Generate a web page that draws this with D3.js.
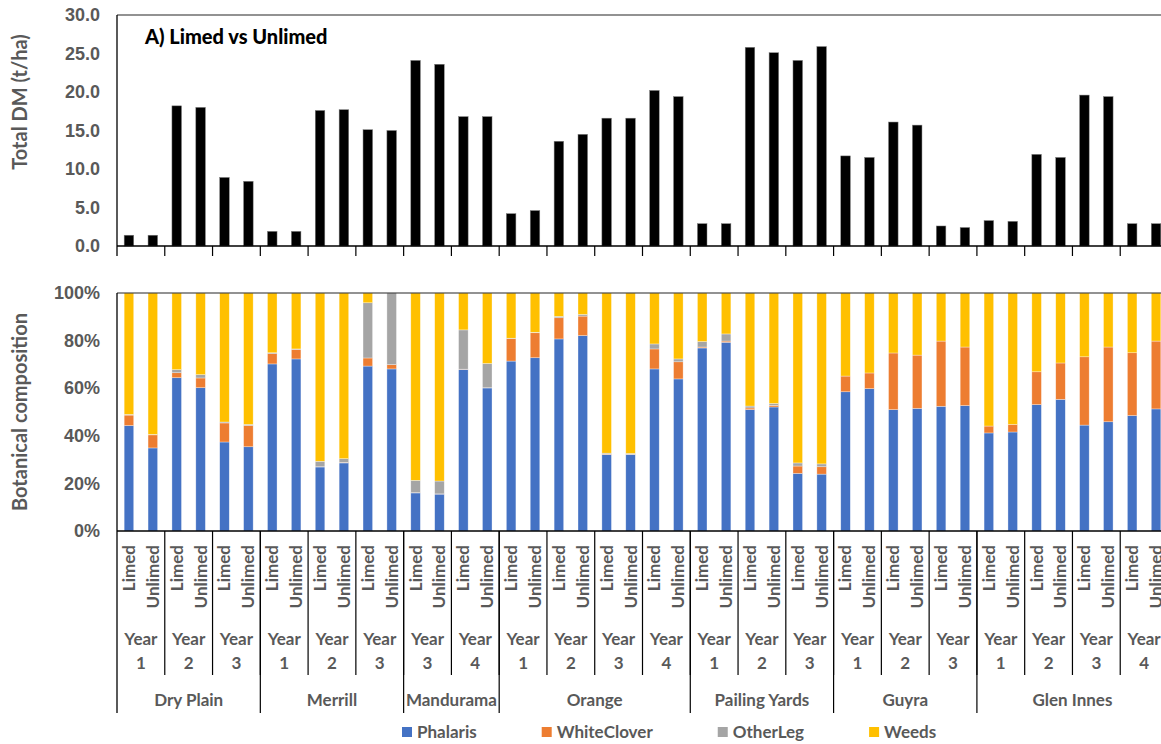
<!DOCTYPE html>
<html>
<head>
<meta charset="utf-8">
<script src="https://cdn.jsdelivr.net/npm/d3@7"></script>
<style>
  html, body { margin: 0; padding: 0; background: #fff; }
  svg { display: block; font-family: Lato, "Open Sans", sans-serif; font-weight: bold; }
</style>
</head>
<body>
<svg id="chart" width="1161" height="744"></svg>
<script>
// Sites, the trial years recorded at each site, and the two treatments
const sites = ["Dry Plain", "Merrill", "Mandurama", "Orange", "Pailing Yards", "Guyra", "Glen Innes"];
const siteYears = [[1, 2, 3], [1, 2, 3], [3, 4], [1, 2, 3, 4], [1, 2, 3], [1, 2, 3], [1, 2, 3, 4]];
const treatments = ["Limed", "Unlimed"];

// Total dry matter (t/ha), one value per bar in site / year / treatment order
const totalDM = [
  1.4, 1.4, 18.2, 18.0, 8.9, 8.4,
  1.9, 1.9, 17.6, 17.7, 15.1, 15.0,
  24.1, 23.6, 16.8, 16.8,
  4.2, 4.6, 13.6, 14.5, 16.6, 16.6, 20.2, 19.4,
  2.9, 2.9, 25.8, 25.1, 24.1, 25.9,
  11.7, 11.5, 16.1, 15.7, 2.6, 2.4,
  3.3, 3.2, 11.9, 11.5, 19.6, 19.4, 2.9, 2.9
];

// Botanical composition (% of total), one value per bar
const phalaris = [
  44.3, 34.9, 64.4, 60.2, 37.4, 35.4,
  70.2, 72.3, 26.9, 28.6, 69.3, 68.1,
  16.0, 15.5, 67.9, 60.1,
  71.4, 72.8, 80.7, 82.1, 32.1, 32.1, 68.1, 63.9,
  76.9, 79.3, 51.0, 52.1, 24.2, 23.9,
  58.5, 59.8, 51.0, 51.5, 52.4, 52.7,
  41.2, 41.6, 53.1, 55.3, 44.5, 45.9, 48.5, 51.3
];
const whiteClover = [
  4.4, 5.5, 2.1, 4.1, 8.0, 8.9,
  4.3, 4.0, 0.1, 0.2, 3.4, 1.8,
  0.1, 0.1, 0.1, 0.1,
  9.4, 10.5, 8.9, 8.2, 0.2, 0.1, 8.4, 7.2,
  0.4, 0.5, 0.7, 0.7, 3.1, 3.1,
  6.6, 6.6, 23.8, 22.4, 27.4, 24.6,
  2.9, 3.2, 13.8, 15.3, 28.7, 31.4, 26.4, 28.5
];
const otherLeg = [
  0.3, 0.2, 1.3, 1.4, 0.4, 0.5,
  0.4, 0.2, 2.3, 1.6, 23.2, 30.1,
  5.2, 5.4, 16.5, 10.2,
  0.2, 0.2, 0.6, 0.7, 0.4, 0.4, 2.1, 1.2,
  2.3, 3.0, 0.8, 0.8, 1.3, 1.2,
  0.0, 0.0, 0.0, 0.0, 0.0, 0.0,
  0.0, 0.0, 0.0, 0.0, 0.0, 0.0, 0.0, 0.0
];
const weeds = [
  51.0, 59.4, 32.2, 34.3, 54.2, 55.2,
  25.1, 23.5, 70.7, 69.6, 4.1, 0.0,
  78.7, 79.0, 15.5, 29.6,
  19.0, 16.5, 9.8, 9.0, 67.3, 67.4, 21.4, 27.7,
  20.4, 17.2, 47.5, 46.4, 71.4, 71.8,
  34.9, 33.6, 25.2, 26.1, 20.2, 22.7,
  55.9, 55.2, 33.1, 29.4, 26.8, 22.7, 25.1, 20.2
];

const seriesNames = ["Phalaris", "WhiteClover", "OtherLeg", "Weeds"];
const seriesColors = ["#4472C4", "#ED7D31", "#A5A5A5", "#FFC000"];
const dmTicks = [0, 5, 10, 15, 20, 25, 30];
const pctTicks = [0, 20, 40, 60, 80, 100];

// ---- build the bar list (site, year, treatment) ----
const bars = [];
const yearGroups = [];
const siteSpans = [];
sites.forEach((s, si) => {
  const first = bars.length;
  siteYears[si].forEach(y => {
    const gFirst = bars.length;
    treatments.forEach(t => {
      const i = bars.length;
      bars.push({ id: i, site: s, year: y, trt: t,
        dm: totalDM[i],
        comp: [phalaris[i], whiteClover[i], otherLeg[i], weeds[i]] });
    });
    yearGroups.push({ year: y, first: gFirst, last: bars.length - 1 });
  });
  siteSpans.push({ site: s, first, last: bars.length - 1 });
});

const svg = d3.select("#chart");
const textCol = "#595959";

const left = 117, right = 1168;
const x = d3.scaleBand().domain(bars.map(d => d.id)).range([left, right])
  .paddingInner(0.6).paddingOuter(0.3);
const step = x.step();
const edge = i => left + i * step;

// ---- top panel: total DM ----
const top1 = 15, bot1 = 246;
const y1 = d3.scaleLinear().domain([0, 30]).range([bot1, top1]);

svg.append("g").selectAll("rect").data(bars).join("rect")
  .attr("x", d => x(d.id)).attr("width", x.bandwidth())
  .attr("y", d => y1(d.dm)).attr("height", d => y1(0) - y1(d.dm))
  .attr("fill", "#000").attr("stroke", "#7f7f7f").attr("stroke-width", 0.5);

const ay1 = svg.append("g").attr("transform", `translate(${left},0)`)
  .call(d3.axisLeft(y1).tickValues(dmTicks).tickFormat(d3.format(".1f")).tickSize(0).tickPadding(17));
ay1.select(".domain").remove();
ay1.selectAll("text").attr("fill", textCol).style("font-size", "18px");

// frame lines, x axis and group ticks
svg.append("line").attr("x1", left).attr("x2", 1161).attr("y1", top1).attr("y2", top1)
  .attr("stroke", "#262626").attr("stroke-width", 1.2);
svg.append("line").attr("x1", left).attr("x2", left).attr("y1", top1).attr("y2", bot1 + 10)
  .attr("stroke", "#000").attr("stroke-width", 1.3);
svg.append("line").attr("x1", left).attr("x2", 1161).attr("y1", bot1).attr("y2", bot1)
  .attr("stroke", "#000").attr("stroke-width", 1.3);
svg.append("g").selectAll("line").data(yearGroups).join("line")
  .attr("x1", d => edge(d.last + 1)).attr("x2", d => edge(d.last + 1))
  .attr("y1", bot1).attr("y2", bot1 + 10)
  .attr("stroke", "#000").attr("stroke-width", 1.2);

svg.append("text").attr("x", 145).attr("y", 44)
  .attr("fill", "#000").style("font-size", "20px").style("font-weight", 900)
  .text("A) Limed vs Unlimed");

svg.append("text").attr("transform", "translate(27,102) rotate(-90)")
  .attr("text-anchor", "middle").attr("fill", textCol).style("font-size", "20px")
  .text("Total DM (t/ha)");

// ---- bottom panel: botanical composition ----
const top2 = 293, bot2 = 531;
const y2 = d3.scaleLinear().domain([0, 100]).range([bot2, top2]);

const stack = d3.stack().keys([0, 1, 2, 3]).value((d, k) => d.comp[k]);
const layers = stack(bars);

svg.append("g").selectAll("g").data(layers).join("g")
  .attr("fill", (d, k) => seriesColors[k])
  .selectAll("rect").data(d => d).join("rect")
  .attr("x", d => x(d.data.id)).attr("width", x.bandwidth())
  .attr("y", d => y2(d[1])).attr("height", d => y2(d[0]) - y2(d[1]))
  .attr("stroke", "#fff").attr("stroke-opacity", 0.55).attr("stroke-width", 0.6);

const ay2 = svg.append("g").attr("transform", `translate(${left},0)`)
  .call(d3.axisLeft(y2).tickValues(pctTicks).tickFormat(d => d + "%").tickSize(0).tickPadding(17));
ay2.select(".domain").remove();
ay2.selectAll("text").attr("fill", textCol).style("font-size", "18px");

svg.append("line").attr("x1", left).attr("x2", 1161).attr("y1", top2).attr("y2", top2)
  .attr("stroke", "#262626").attr("stroke-width", 1.2);
svg.append("line").attr("x1", left).attr("x2", 1161).attr("y1", bot2).attr("y2", bot2)
  .attr("stroke", "#000").attr("stroke-width", 1.3);
svg.append("line").attr("x1", left).attr("x2", left).attr("y1", top2).attr("y2", 713)
  .attr("stroke", "#000").attr("stroke-width", 1.3);

svg.append("text").attr("transform", `translate(27,${(top2 + bot2) / 2}) rotate(-90)`)
  .attr("text-anchor", "middle").attr("fill", textCol).style("font-size", "20px")
  .text("Botanical composition");

// multi-level category axis: treatment / year / site
svg.append("g").selectAll("text").data(bars).join("text")
  .attr("transform", d => `translate(${x(d.id) + x.bandwidth() / 2},545) rotate(-90)`)
  .attr("text-anchor", "end").attr("dy", "0.35em")
  .attr("fill", textCol).style("font-size", "17px").text(d => d.trt);

svg.append("g").selectAll("line").data(yearGroups).join("line")
  .attr("x1", d => edge(d.last + 1)).attr("x2", d => edge(d.last + 1))
  .attr("y1", bot2).attr("y2", 675)
  .attr("stroke", "#000").attr("stroke-width", 1.2);

const yg = svg.append("g").selectAll("g").data(yearGroups).join("g")
  .attr("transform", d => `translate(${(edge(d.first) + edge(d.last + 1)) / 2},0)`);
yg.append("text").attr("y", 645).attr("text-anchor", "middle")
  .attr("fill", textCol).style("font-size", "17px").text("Year");
yg.append("text").attr("y", 669).attr("text-anchor", "middle")
  .attr("fill", textCol).style("font-size", "17px").text(d => d.year);

svg.append("g").selectAll("line").data(siteSpans).join("line")
  .attr("x1", d => edge(d.last + 1)).attr("x2", d => edge(d.last + 1))
  .attr("y1", bot2).attr("y2", 713)
  .attr("stroke", "#000").attr("stroke-width", 1.2);

svg.append("g").selectAll("text").data(siteSpans).join("text")
  .attr("x", d => (edge(d.first) + edge(d.last + 1)) / 2).attr("y", 706)
  .attr("text-anchor", "middle").attr("fill", textCol).style("font-size", "17px")
  .text(d => d.site);

// ---- legend ----
const legend = svg.append("g").attr("transform", "translate(402,732)");
let lx = 0;
seriesNames.forEach((name, k) => {
  const g = legend.append("g").attr("transform", `translate(${lx},0)`);
  g.append("rect").attr("x", 0).attr("y", -5).attr("width", 10).attr("height", 10)
    .attr("fill", seriesColors[k]);
  const t = g.append("text").attr("x", 15).attr("dy", "0.35em")
    .attr("fill", textCol).style("font-size", "17px").text(name);
  lx += 15 + t.node().getComputedTextLength() + 65;
});
</script>
</body>
</html>
